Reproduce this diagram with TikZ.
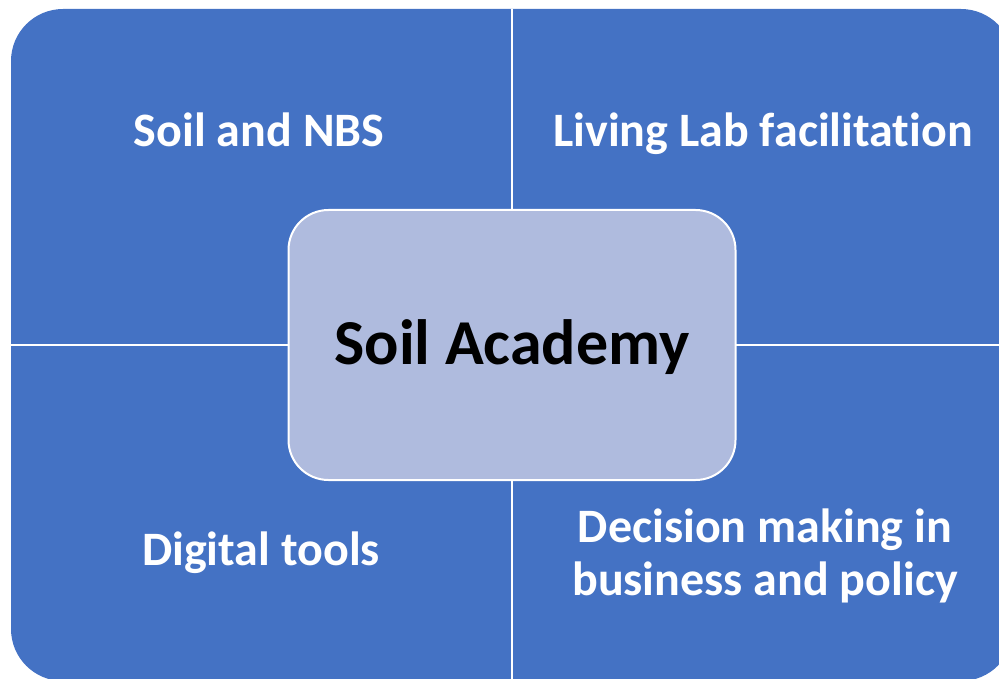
\documentclass[tikz,border=0pt]{standalone}
\usepackage{fontspec}
\setmainfont{Carlito}[Ligatures=NoCommon]
\definecolor{quadblue}{HTML}{4472C4}
\definecolor{centerblue}{HTML}{AFBBDE}

\begin{document}
\begin{tikzpicture}[x=1bp, y=-1bp,
    quadtext/.style={text=white, font=\bfseries\fontsize{48bp}{53bp}\selectfont, align=center, anchor=base},
    divider/.style={white, line width=2.5bp}]
    \useasboundingbox (0,0) rectangle (999,679);
    % 外枠
    \begin{scope}
        \clip (0,0) rectangle (999,679);
        \fill[quadblue, rounded corners=52bp] (11,9) rectangle (1013,681);
    \end{scope}
    % 仕切り線
    \coordinate (divtop) at (512,9);
    \coordinate (divbottom) at (512,679);
    \coordinate (divleft) at (11,345);
    \coordinate (divright) at (999,345);
    \draw[divider] (divtop)--(divbottom);
    \draw[divider] (divleft)--(divright);
    % 四つの項目
    \node[quadtext] (soilnbs) at (259,147) {Soil and NBS};
    \node[quadtext] (livinglab) at (763,147) {Living Lab facilitation};
    \node[quadtext] (digital) at (261,565) {Digital tools};
    \node[quadtext] (decision) at (765,595) {Decision making in\\business and policy};% 最後の行のベースライン
    % 中央
    \node[draw=white, line width=2bp, fill=centerblue, rounded corners=40bp,
          minimum width=447bp, minimum height=270bp, text height=50bp,
          font=\bfseries\fontsize{64bp}{70bp}\selectfont] (academy) at (512,345) {Soil Academy};
\end{tikzpicture}
\end{document}
